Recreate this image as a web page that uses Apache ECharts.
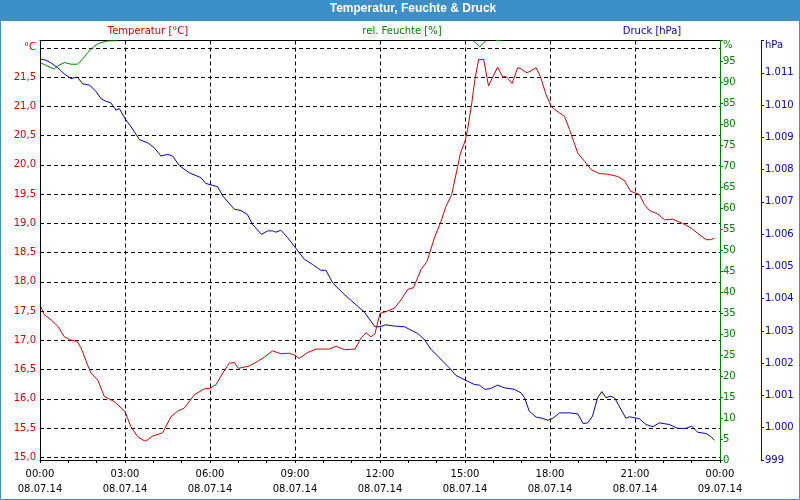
<!DOCTYPE html>
<html>
<head>
<meta charset="utf-8">
<script src="https://cdn.jsdelivr.net/npm/echarts@6/dist/echarts.min.js"></script>
<style>html,body{margin:0;padding:0;background:#fff}#c{width:800px;height:500px}</style>
</head>
<body>
<div id="c"></div>
<script>
// ---- data ----
const hourLabels = ['00:00','03:00','06:00','09:00','12:00','15:00','18:00','21:00','00:00'];
const dateLabels = ['08.07.14','08.07.14','08.07.14','08.07.14','08.07.14','08.07.14','08.07.14','08.07.14','09.07.14'];

const tempHours = [0.00,0.15,0.39,0.63,0.86,1.04,1.31,1.45,1.68,1.80,2.04,2.27,2.39,2.63,3.00,3.21,3.45,3.69,3.80,3.97,4.33,4.62,4.86,5.09,5.45,5.80,6.00,6.21,6.45,6.68,6.86,7.00,7.38,7.68,7.91,8.21,8.50,8.80,8.97,9.15,9.44,9.74,10.21,10.45,10.74,11.12,11.33,11.51,11.68,11.82,12.00,12.21,12.51,12.74,12.98,13.18,13.45,13.66,13.92,14.15,14.33,14.53,14.74,14.84,15.00,15.09,15.24,15.35,15.48,15.66,15.83,16.15,16.33,16.45,16.66,16.86,16.98,17.19,17.51,17.66,17.86,18.04,18.21,18.51,18.69,18.98,19.22,19.45,19.74,20.04,20.39,20.63,20.84,21.16,21.33,21.51,21.80,22.04,22.33,22.68,22.98,23.21,23.51,23.69,23.80];
const tempValues = [17.61,17.44,17.35,17.24,17.06,17.01,16.98,16.87,16.58,16.44,16.32,16.04,16.01,15.95,15.78,15.52,15.35,15.28,15.30,15.36,15.42,15.69,15.79,15.84,16.07,16.17,16.18,16.24,16.44,16.61,16.62,16.52,16.56,16.64,16.71,16.82,16.77,16.78,16.75,16.69,16.79,16.85,16.85,16.90,16.84,16.85,17.04,17.13,17.06,17.11,17.46,17.49,17.55,17.69,17.87,17.90,18.21,18.35,18.75,19.03,19.29,19.49,19.97,20.20,20.40,20.60,21.06,21.46,21.80,21.80,21.35,21.67,21.50,21.51,21.39,21.66,21.64,21.57,21.66,21.51,21.20,21.00,20.93,20.83,20.60,20.20,20.06,19.92,19.85,19.84,19.80,19.73,19.55,19.49,19.32,19.22,19.16,19.06,19.07,19.00,18.92,18.83,18.72,18.72,18.75];

// humidity: only the parts that are visible inside the 0–100 % range (null = off the top of the chart)
const humHours = [0.00,0.20,0.50,0.62,0.86,1.09,1.32,1.50,1.68,1.91,2.09,2.39,2.74,2.80,15.28,15.40,15.52,15.63,15.74,15.80,16.10,16.25,16.30];
const humValues = [94.75,94.1,93.2,93.9,94.75,94.35,94.35,95.5,97.1,98.6,99.35,99.9,99.95,null,100,99.3,98.5,99.2,100,null,100,100,null];

const presHours = [0.00,0.20,0.38,0.62,0.85,1.09,1.32,1.50,1.74,1.97,2.15,2.32,2.50,2.68,2.80,3.00,3.21,3.51,3.80,4.03,4.27,4.50,4.68,4.91,5.27,5.68,5.85,6.27,6.45,6.86,7.09,7.32,7.50,7.82,8.03,8.21,8.32,8.50,8.74,8.97,9.33,9.62,9.91,10.09,10.33,10.74,11.45,11.82,12.00,12.21,12.51,12.86,13.33,13.56,13.80,14.44,14.68,15.00,15.33,15.51,15.70,15.89,16.15,16.38,16.74,16.98,17.10,17.27,17.51,17.74,17.92,18.10,18.33,18.69,18.98,19.17,19.33,19.50,19.68,19.83,19.97,20.15,20.29,20.68,20.80,21.15,21.39,21.63,21.86,22.21,22.51,22.80,23.00,23.21,23.51,23.69,23.80];
const presValues = [1011.43,1011.39,1011.31,1011.16,1010.97,1010.82,1010.87,1010.66,1010.62,1010.43,1010.20,1010.12,1010.07,1009.84,1009.89,1009.58,1009.33,1008.93,1008.83,1008.68,1008.42,1008.47,1008.42,1008.13,1007.90,1007.75,1007.57,1007.47,1007.18,1006.77,1006.73,1006.61,1006.30,1005.99,1006.10,1006.10,1006.06,1006.12,1005.89,1005.63,1005.22,1005.06,1004.88,1004.88,1004.49,1004.13,1003.58,1003.13,1003.13,1003.19,1003.15,1003.13,1002.92,1002.74,1002.43,1001.86,1001.62,1001.48,1001.34,1001.32,1001.19,1001.21,1001.32,1001.24,1001.19,1001.08,1000.93,1000.51,1000.33,1000.29,1000.23,1000.29,1000.46,1000.46,1000.43,1000.13,1000.15,1000.36,1000.93,1001.12,1000.93,1000.98,1000.91,1000.29,1000.34,1000.28,1000.10,1000.03,1000.15,1000.10,999.98,999.98,1000.05,999.86,999.82,999.72,999.61];

// ---- chart ----
const RED = '#d00000', GREEN = '#008000', BLUE = '#0000c8', BAR = '#3d8fc7';
const FONT = 'DejaVu Sans';
const zip = (a, b) => a.map((h, i) => [h, b[i]]);

const chart = echarts.init(document.getElementById('c'), null, {renderer: 'canvas'});
chart.setOption({
  animation: false,
  backgroundColor: '#fff',
  graphic: [
    {type: 'rect', z: 0, shape: {x: 0, y: 0, width: 800, height: 21}, style: {fill: BAR}},
    {type: 'rect', z: 0, shape: {x: 0.5, y: 0.5, width: 799, height: 499}, style: {fill: null, stroke: BAR, lineWidth: 1}}
  ],
  title: [
    {text: 'Temperatur, Feuchte & Druck', left: 413, textAlign: 'center', top: 3, padding: 0, z: 10,
     textStyle: {color: '#fff', fontFamily: 'Liberation Sans', fontWeight: 'bold', fontSize: 12}},
    {text: 'Temperatur [°C]', left: 148, textAlign: 'center', top: 26, padding: 0,
     textStyle: {color: RED, fontFamily: FONT, fontWeight: 'normal', fontSize: 10}},
    {text: 'rel. Feuchte [%]', left: 402, textAlign: 'center', top: 26, padding: 0,
     textStyle: {color: GREEN, fontFamily: FONT, fontWeight: 'normal', fontSize: 10}},
    {text: 'Druck [hPa]', left: 652, textAlign: 'center', top: 26, padding: 0,
     textStyle: {color: BLUE, fontFamily: FONT, fontWeight: 'normal', fontSize: 10}}
  ],
  grid: [
    {left: 40, right: 80, top: 40.5, bottom: 42.7, outerBoundsMode: 'none'},
    {left: 40, right: 80, top: 40.5, bottom: 40, outerBoundsMode: 'none'}
  ],
  xAxis: [
    {gridIndex: 0, type: 'value', min: 0, max: 24, show: false},
    {gridIndex: 1, type: 'value', min: 0, max: 24, interval: 3, position: 'bottom',
     axisLine: {show: true, onZero: false, lineStyle: {color: '#000', width: 1}},
     axisTick: {show: true, length: 3, lineStyle: {color: '#000'}},
     minorTick: {show: true, splitNumber: 3, length: 3, lineStyle: {color: '#000'}},
     splitLine: {show: true, showMinLine: false, showMaxLine: false, lineStyle: {color: '#000', type: [4, 3], width: 1}},
     axisLabel: {color: '#000', fontFamily: FONT, fontSize: 10, lineHeight: 15, margin: 7,
       formatter: v => { const i = Math.round(v / 3); return hourLabels[i] + '\n' + dateLabels[i]; }}},
    {gridIndex: 1, type: 'value', min: 0, max: 24, position: 'top',
     axisLine: {show: true, onZero: false, lineStyle: {color: '#000', width: 1}},
     axisTick: {show: false}, axisLabel: {show: false}, splitLine: {show: false}}
  ],
  yAxis: [
    {gridIndex: 0, type: 'value', min: 15, max: 22.125, interval: 0.5, position: 'left',
     axisLine: {show: false}, axisTick: {show: false},
     splitLine: {show: true, showMaxLine: false, lineStyle: {color: '#000', type: [4, 3], width: 1}},
     axisLabel: {color: RED, fontFamily: FONT, fontSize: 10, margin: 4,
       formatter: v => { if (Math.abs(v - 22) < 1e-6) return '°C';
         if (Math.abs(v * 2 - Math.round(v * 2)) > 1e-6) return '';
         return v.toFixed(1).replace('.', ','); }}},
    {gridIndex: 1, type: 'value', min: 0, max: 100, interval: 5, position: 'right', offset: 0,
     axisLine: {show: true, onZero: false, lineStyle: {color: GREEN, width: 1}},
     axisTick: {show: true, length: 3, lineStyle: {color: GREEN}},
     splitLine: {show: false},
     axisLabel: {color: GREEN, fontFamily: FONT, fontSize: 10, margin: 3,
       formatter: v => v === 100 ? '{low|%}' : String(v),
       rich: {low: {color: GREEN, fontFamily: FONT, fontSize: 10, padding: [10, 0, 0, 0]}}}},
    {gridIndex: 1, type: 'value', min: 999, max: 1012, interval: 1, position: 'right', offset: 41,
     axisLine: {show: true, onZero: false, lineStyle: {color: BLUE, width: 1}},
     axisTick: {show: true, length: 3, lineStyle: {color: BLUE}},
     splitLine: {show: false},
     axisLabel: {color: BLUE, fontFamily: FONT, fontSize: 10, margin: 4,
       formatter: v => v === 1012 ? '{low|hPa}' : (v >= 1000 ? '1.' + String(v - 1000).padStart(3, '0') : String(v)),
       rich: {low: {color: BLUE, fontFamily: FONT, fontSize: 10, padding: [10, 0, 0, 0]}}}},
    {gridIndex: 1, type: 'value', min: 0, max: 1, position: 'left', z: 10,
     axisLine: {show: true, onZero: false, lineStyle: {color: '#000', width: 1}},
     axisTick: {show: false}, axisLabel: {show: false}, splitLine: {show: false}}
  ],
  series: [
    {type: 'line', name: 'Feuchte', xAxisIndex: 1, yAxisIndex: 1, data: zip(humHours, humValues),
     showSymbol: false, symbol: 'none', connectNulls: false, lineStyle: {color: GREEN, width: 1}, itemStyle: {color: GREEN}, z: 2},
    {type: 'line', name: 'Druck', xAxisIndex: 1, yAxisIndex: 2, data: zip(presHours, presValues),
     showSymbol: false, symbol: 'none', lineStyle: {color: BLUE, width: 1}, itemStyle: {color: BLUE}, z: 3},
    {type: 'line', name: 'Temperatur', xAxisIndex: 0, yAxisIndex: 0, data: zip(tempHours, tempValues),
     showSymbol: false, symbol: 'none', lineStyle: {color: RED, width: 1}, itemStyle: {color: RED}, z: 4}
  ]
});
</script>
</body>
</html>
